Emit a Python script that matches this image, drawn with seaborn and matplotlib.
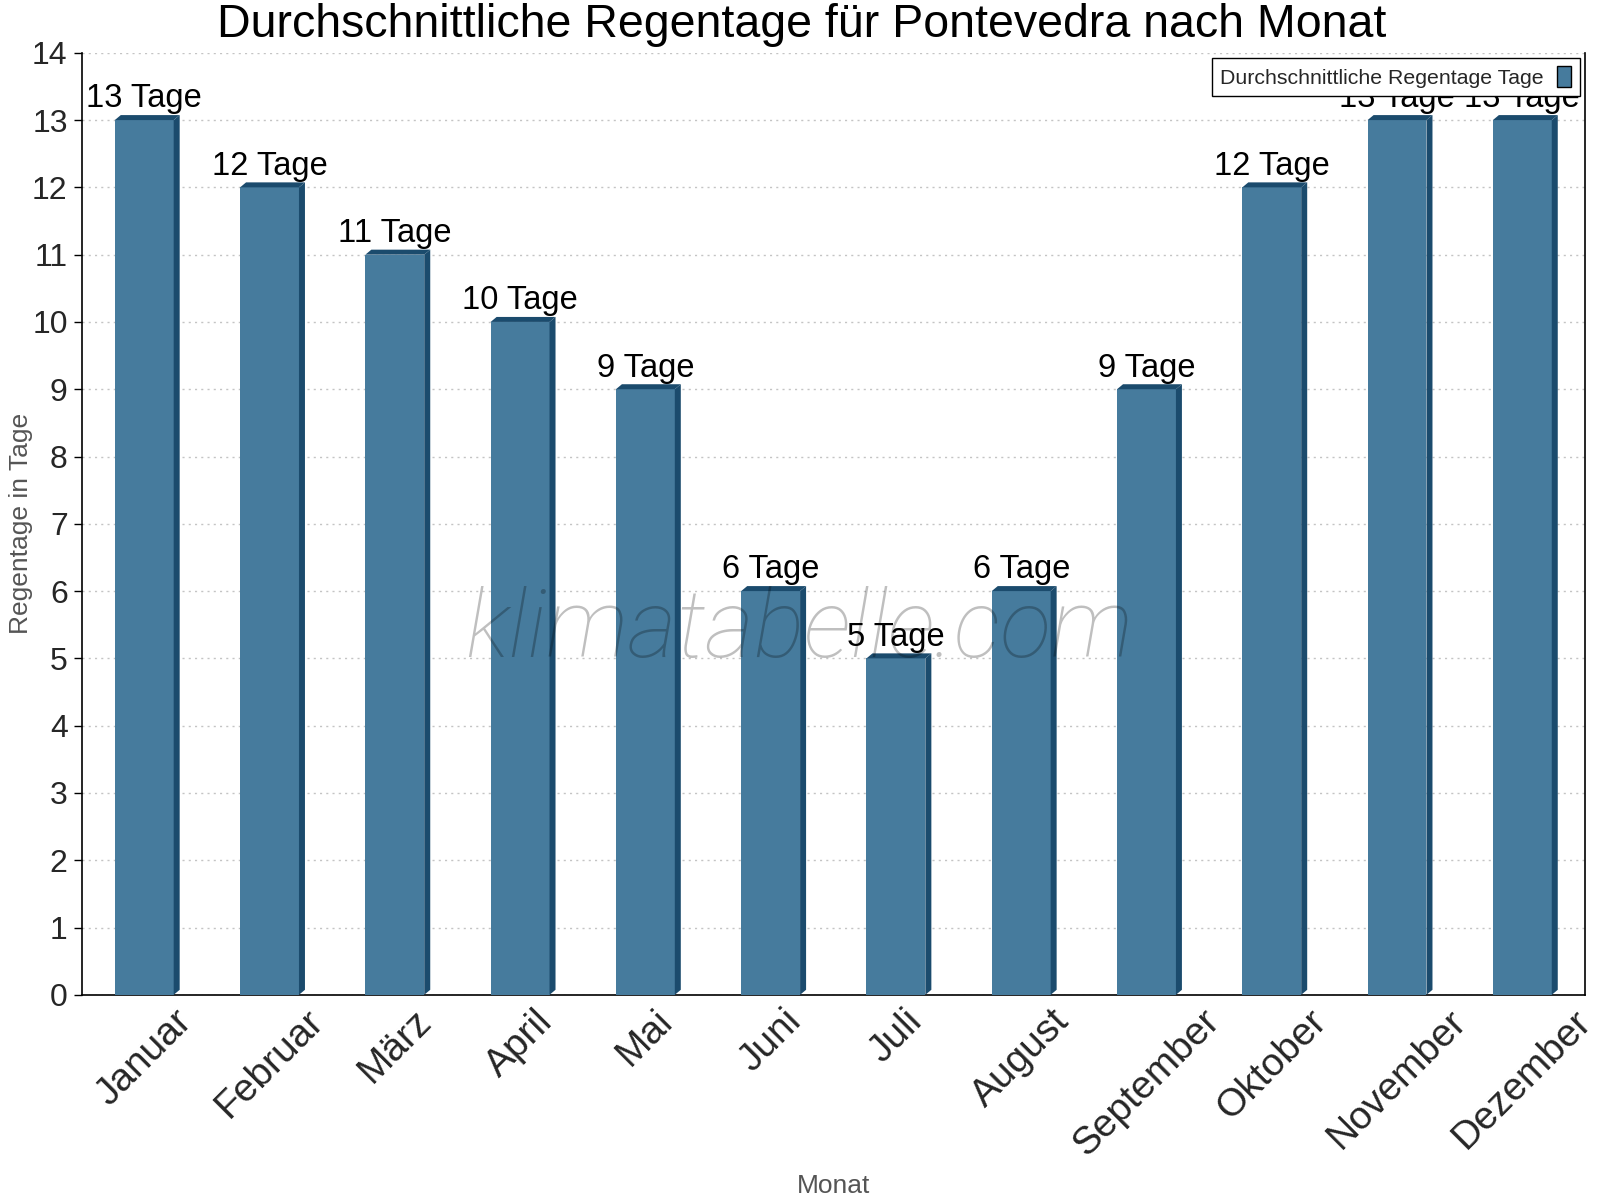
import pandas as pd
import matplotlib.pyplot as plt
import seaborn as sns
from matplotlib.patches import Polygon
from matplotlib.ticker import FixedLocator

# Data: average rain days per month, Pontevedra
months = ['Januar', 'Februar', 'März', 'April', 'Mai', 'Juni', 'Juli',
          'August', 'September', 'Oktober', 'November', 'Dezember']
rain_days = [13, 12, 11, 10, 9, 6, 5, 6, 9, 12, 13, 13]
y_ticks = list(range(0, 15))

df = pd.DataFrame({'Monat': months, 'Tage': rain_days})

sns.set_style('white')
plt.rcParams['font.family'] = ['Liberation Sans', 'DejaVu Sans']

front = '#467b9d'
dark = '#1b4b6d'

fig = plt.figure(figsize=(16, 12), dpi=100)
ax = fig.add_axes([0.051, 0.171, 0.9396, 0.785])

sns.barplot(data=df, x='Monat', y='Tage', order=months, color=front,
            width=0.47, saturation=1, linewidth=0,
            label='Durchschnittliche Regentage Tage', ax=ax, zorder=3)

ax.set_xlim(-0.5, len(months) - 0.5)
ax.set_ylim(0, 14)
ax.yaxis.set_major_locator(FixedLocator(y_ticks))

# 3D-ish side and top faces, sized in pixels via the axes transform
fig.canvas.draw()
bbox = ax.get_window_extent()
px_x = len(months) / bbox.width
px_y = 14 / bbox.height
dx, dy = 6 * px_x, 5 * px_y
for p in list(ax.patches):
    x0, w, h = p.get_x(), p.get_width(), p.get_height()
    x1 = x0 + w
    ax.add_patch(Polygon([(x1, 0), (x1 + dx, dy), (x1 + dx, h + dy), (x1, h)],
                         closed=True, facecolor=dark, edgecolor='none', zorder=3))
    ax.add_patch(Polygon([(x0, h), (x0 + dx, h + dy), (x1 + dx, h + dy), (x1, h)],
                         closed=True, facecolor=dark, edgecolor='none', zorder=3))
    ax.text(x0 + w / 2, h + dy + 0.01, f'{int(h)} Tage', ha='center', va='bottom',
            fontsize=23.5, color='black', zorder=5)

# ticks at category boundaries, labels at category centres
ax.set_xticks([i - 0.5 for i in range(len(months) + 1)])
ax.set_xticklabels([])
ax.set_xticks(range(len(months)), minor=True)
ax.set_xticklabels(months, minor=True, rotation=45, ha='center', va='top',
                   fontsize=28)
ax.tick_params(axis='x', which='major', direction='in', length=8, width=1, color='black')
ax.tick_params(axis='x', which='minor', length=0, pad=6)
ax.tick_params(axis='y', direction='out', length=6, width=1, color='black',
               labelsize=23, left=True, pad=4)

ax.grid(axis='y', linestyle=(0, (1.5, 3)), color='#c4c4c4', linewidth=1, zorder=0)
ax.set_axisbelow(True)

for side in ['left', 'bottom', 'right']:
    ax.spines[side].set_visible(True)
    ax.spines[side].set_color('black')
    ax.spines[side].set_linewidth(1.2)
ax.spines['top'].set_visible(False)

fig.text(0.501, 0.979, 'Durchschnittliche Regentage für Pontevedra nach Monat',
         ha='center', va='center', fontsize=33.5, color='black')
ax.set_ylabel('Regentage in Tage', fontsize=19, color='#555555')
ax.yaxis.set_label_coords(-0.032, 0.5)
ax.set_xlabel('Monat', fontsize=19, color='#555555')
ax.xaxis.set_label_coords(0.5, -0.19)

ax.text(0.477, 0.359, 'klimatabelle.com', transform=ax.transAxes, ha='center',
        va='baseline', fontsize=68, style='italic', color='black', alpha=0.25,
        family=['Roboto', 'Liberation Sans'], fontweight='light', zorder=6)

leg = ax.legend(loc='upper right', bbox_to_anchor=(0.9967, 0.9947), fontsize=15.3,
                frameon=True, fancybox=False, markerfirst=False, framealpha=1,
                handlelength=0.7, handleheight=1.1, borderpad=0.4,
                handletextpad=0.6, borderaxespad=0)
leg.get_frame().set_edgecolor('black')
leg.get_frame().set_linewidth(1)
leg.set_zorder(7)
for hnd in leg.legend_handles:
    hnd.set_edgecolor('black')
    hnd.set_linewidth(1)

fig.savefig('out.png', dpi=100)
